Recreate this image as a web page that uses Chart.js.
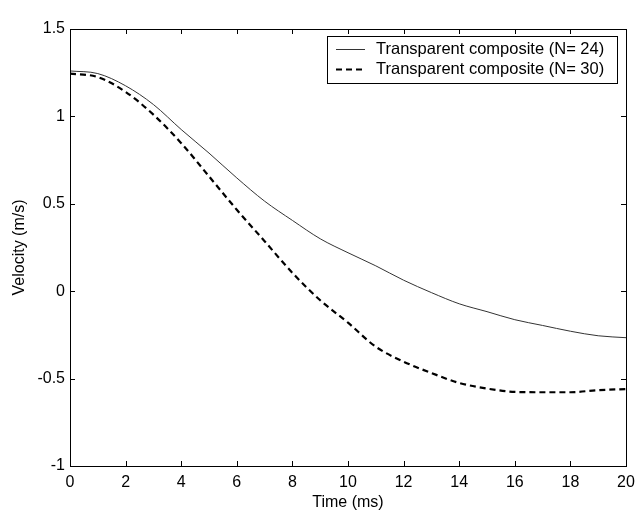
<!DOCTYPE html>
<html>
<head>
<meta charset="utf-8">
<script src="https://cdn.jsdelivr.net/npm/chart.js@4"></script>
<style>
  html, body { margin: 0; padding: 0; background: #fff; }
  canvas { display: block; }
  #status { position: absolute; left: 100px; top: 150px; width: 10px; font: 12px monospace; color: #fff; }
</style>
</head>
<body>
<canvas id="velChart" width="638" height="519"></canvas>
<div id="status"></div>
<script>
// time axis (ms)
const timeMs = [0, 1, 2, 3, 4, 5, 6, 7, 8, 9, 10, 11, 12, 13, 14, 15, 16, 17, 18, 19, 20];
// velocity (m/s)
const velN24 = [1.26, 1.245, 1.175, 1.068, 0.925, 0.79, 0.648, 0.515, 0.405, 0.30, 0.22, 0.145, 0.063, -0.008, -0.072, -0.117, -0.163, -0.196, -0.229, -0.255, -0.266];
const velN30 = [1.245, 1.225, 1.14, 1.01, 0.847, 0.657, 0.466, 0.286, 0.105, -0.052, -0.18, -0.318, -0.403, -0.468, -0.525, -0.557, -0.576, -0.578, -0.578, -0.566, -0.56];
const seriesNames = ['Transparent composite (N= 24)', 'Transparent composite (N= 30)'];

const FONT = 'Arial, "Liberation Sans", sans-serif';

function toPoints(xs, ys) {
    return xs.map((x, i) => ({ x: x, y: ys[i] }));
}

// axes box with inward ticks on all four sides, then the legend inside the top right
const figureDecor = {
    id: 'figureDecor',
    afterDraw(chart) {
        const c = chart.ctx;
        const a = chart.chartArea;
        const xs = chart.scales.x, ys = chart.scales.y;
        const len = 5;
        document.getElementById('status').innerText = ' ';

        c.save();
        c.fillStyle = '#000';
        c.fillRect(Math.round(a.left), Math.round(a.top), Math.round(a.right - a.left), 1);
        c.fillRect(Math.round(a.left), Math.round(a.bottom), Math.round(a.right - a.left) + 1, 1);
        c.fillRect(Math.round(a.left), Math.round(a.top), 1, Math.round(a.bottom - a.top));
        c.fillRect(Math.round(a.right), Math.round(a.top), 1, Math.round(a.bottom - a.top));
        xs.ticks.forEach(t => {
            const px = Math.round(xs.getPixelForValue(t.value));
            c.fillRect(px, Math.round(a.bottom) - len, 1, len);
            c.fillRect(px, Math.round(a.top), 1, len);
        });
        ys.ticks.forEach(t => {
            const py = Math.round(ys.getPixelForValue(t.value));
            c.fillRect(Math.round(a.left), py, len, 1);
            c.fillRect(Math.round(a.right) - len, py, len, 1);
        });

        // legend
        c.font = '16.5px ' + FONT;
        const textW = Math.max(...chart.data.datasets.map(d => c.measureText(d.label).width));
        const boxW = Math.round(49 + textW + 13);
        const boxH = 47;
        const bx = Math.round(a.right) - 9 - boxW;
        const by = Math.round(a.top) + 7;
        c.fillStyle = '#fff';
        c.fillRect(bx, by, boxW, boxH);
        c.fillStyle = '#000';
        c.fillRect(bx, by, boxW, 1);
        c.fillRect(bx, by + boxH, boxW + 1, 1);
        c.fillRect(bx, by, 1, boxH);
        c.fillRect(bx + boxW, by, 1, boxH);
        chart.data.datasets.forEach((d, i) => {
            const cy = by + 13 + i * 20;
            c.beginPath();
            c.strokeStyle = d.borderColor;
            c.lineWidth = d.borderWidth;
            c.setLineDash(d.borderDash || []);
            c.moveTo(bx + 9, cy + 0.5);
            c.lineTo(bx + 38, cy + 0.5);
            c.stroke();
            c.setLineDash([]);
            c.fillStyle = '#000';
            c.textBaseline = 'middle';
            c.fillText(d.label, bx + 49, cy);
        });
        c.restore();
    }
};

const ctx = document.getElementById('velChart').getContext('2d');
new Chart(ctx, {
    type: 'line',
    data: {
        datasets: [{
            label: seriesNames[0],
            data: toPoints(timeMs, velN24),
            borderColor: '#333',
            borderWidth: 1,
            pointRadius: 0,
            fill: false,
            cubicInterpolationMode: 'monotone'
        }, {
            label: seriesNames[1],
            data: toPoints(timeMs, velN30),
            borderColor: '#000',
            borderWidth: 2.2,
            borderDash: [6, 4],
            pointRadius: 0,
            fill: false,
            cubicInterpolationMode: 'monotone'
        }]
    },
    options: {
        responsive: false,
        animation: false,
        events: [],
        layout: { padding: { top: 29, right: 12, left: 0, bottom: 0 } },
        plugins: { legend: { display: false }, tooltip: { enabled: false } },
        scales: {
            x: {
                type: 'linear',
                min: 0, max: 20,
                grid: { display: false, drawTicks: false },
                border: { display: false },
                ticks: { stepSize: 2, color: '#000', padding: 7, font: { family: FONT, size: 16 }, maxRotation: 0 },
                title: { display: true, text: 'Time (ms)', color: '#000', font: { family: FONT, size: 16 }, padding: { top: 4, bottom: 7 } },
                afterFit(scale) { scale.height = 53; scale.paddingLeft = 0; scale.paddingRight = 0; }
            },
            y: {
                type: 'linear',
                min: -1, max: 1.5,
                grid: { display: false, drawTicks: false },
                border: { display: false },
                ticks: { stepSize: 0.5, color: '#000', padding: 5, font: { family: FONT, size: 16 },
                         callback: v => String(v) },
                title: { display: true, text: 'Velocity (m/s)', color: '#000', font: { family: FONT, size: 16 }, padding: { top: 10, bottom: 4 } },
                afterFit(scale) { scale.width = 70; scale.paddingTop = 0; scale.paddingBottom = 0; }
            }
        }
    },
    plugins: [figureDecor]
});
</script>
</body>
</html>
